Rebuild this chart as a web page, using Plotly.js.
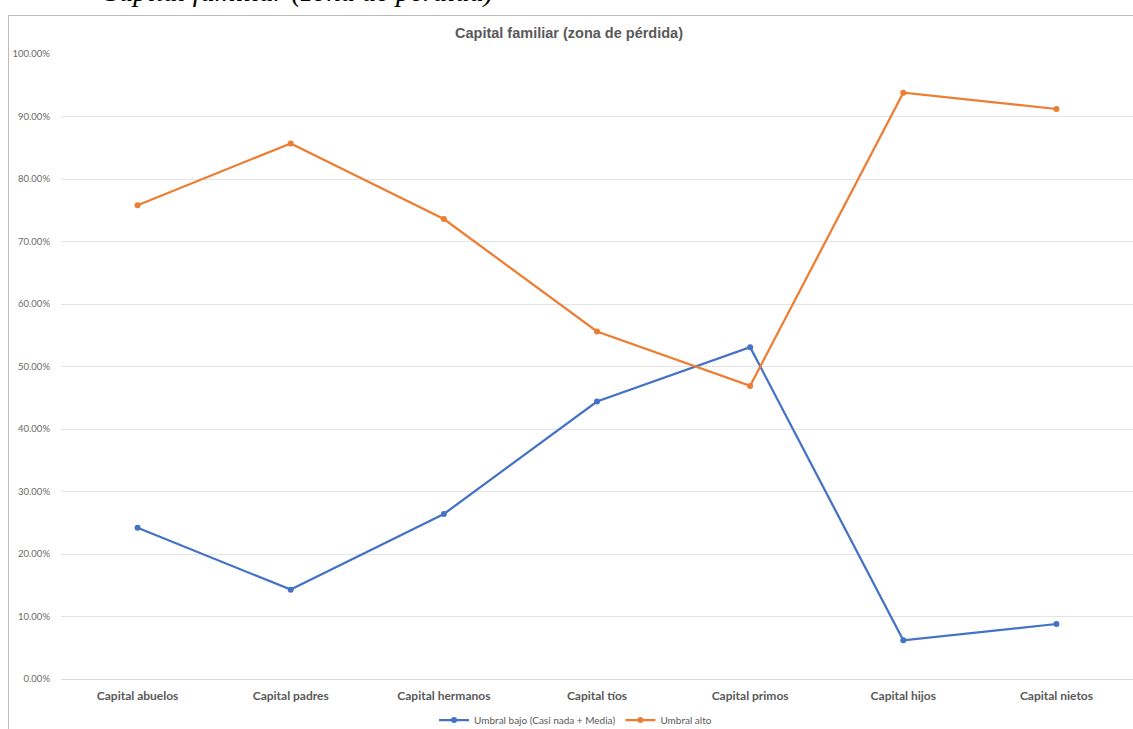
<!DOCTYPE html>
<html>
<head>
<meta charset="utf-8">
<script src="https://cdn.plot.ly/plotly-3.0.1.min.js"></script>
<style>
  html, body { margin:0; padding:0; width:1133px; height:729px; overflow:hidden; background:#fff; }
  #chart { position:absolute; left:0; top:0; width:1133px; height:729px; }
  #frame { position:absolute; left:8px; top:15px; width:1200px; height:800px; border-left:1.5px solid #bcbcbc; border-top:1.5px solid #bcbcbc; pointer-events:none; }
  #caption { position:absolute; left:100px; top:-22px; font-family:"Liberation Serif", "DejaVu Serif", serif; font-style:italic; font-size:28.5px; line-height:28px; color:#000; white-space:nowrap; }
</style>
</head>
<body>
<div id="caption">Capital familiar (zona de pérdida)</div>
<div id="chart"></div>
<div id="frame"></div>
<script>
var categories = ["Capital abuelos", "Capital padres", "Capital hermanos", "Capital tíos", "Capital primos", "Capital hijos", "Capital nietos"];
var umbralBajo = [0.242, 0.143, 0.264, 0.444, 0.531, 0.062, 0.088];
var umbralAlto = [0.758, 0.857, 0.736, 0.556, 0.469, 0.938, 0.912];
var seriesNames = ["Umbral bajo (Casi nada + Media)", "Umbral alto"];
var chartTitle = "Capital familiar (zona de pérdida)";
var yTickVals = [0, 0.1, 0.2, 0.3, 0.4, 0.5, 0.6, 0.7, 0.8, 0.9, 1.0];

var idx = categories.map(function(_, i){ return i; });

var traces = [
  { x: idx, y: umbralBajo, name: seriesNames[0], type: "scatter", mode: "lines+markers",
    line: { color: "#4472C4", width: 2.25 }, marker: { color: "#4472C4", size: 6 } },
  { x: idx, y: umbralAlto, name: seriesNames[1], type: "scatter", mode: "lines+markers",
    line: { color: "#ED7D31", width: 2.25 }, marker: { color: "#ED7D31", size: 6 } }
];

var layout = {
  width: 1133, height: 729,
  margin: { l: 61, r: 0, t: 54, b: 50, pad: 0, autoexpand: false },
  paper_bgcolor: "rgba(0,0,0,0)", plot_bgcolor: "rgba(0,0,0,0)",
  showlegend: true,
  title: { text: chartTitle, x: 569/1133, xanchor: "center", xref: "container", y: 1 - 33/729, yanchor: "middle", yref: "container",
           font: { family: "Liberation Sans, Arial, sans-serif", size: 14.5, color: "#595959", weight: "bold" } },
  xaxis: {
    range: [-0.5, 6.5], tickmode: "array", tickvals: idx, ticktext: categories,
    showgrid: false, zeroline: false, showline: true, linecolor: "#d9d9d9", linewidth: 1,
    ticks: "", ticklabelstandoff: 6,
    tickfont: { family: "Lato, Open Sans, sans-serif", size: 12, color: "#595959", weight: "bold" },
    fixedrange: true
  },
  yaxis: {
    range: [0, 1], tickmode: "array", tickvals: yTickVals, tickformat: ".2%",
    showgrid: true, gridcolor: "#e4e4e4", gridwidth: 1, zeroline: false, showline: false,
    ticks: "", ticklabelstandoff: 10,
    tickfont: { family: "Lato, Open Sans, sans-serif", size: 9.5, color: "#6a6a6a" },
    fixedrange: true
  },
  legend: { orientation: "h", x: 0.48, xanchor: "center", y: -41/625, yanchor: "middle",
            font: { family: "Lato, Open Sans, sans-serif", size: 10, color: "#595959" },
            itemwidth: 30, tracegroupgap: 0, bgcolor: "rgba(0,0,0,0)" },
  hovermode: false
};

Plotly.newPlot("chart", traces, layout, { displayModeBar: false, staticPlot: true });
</script>
</body>
</html>
